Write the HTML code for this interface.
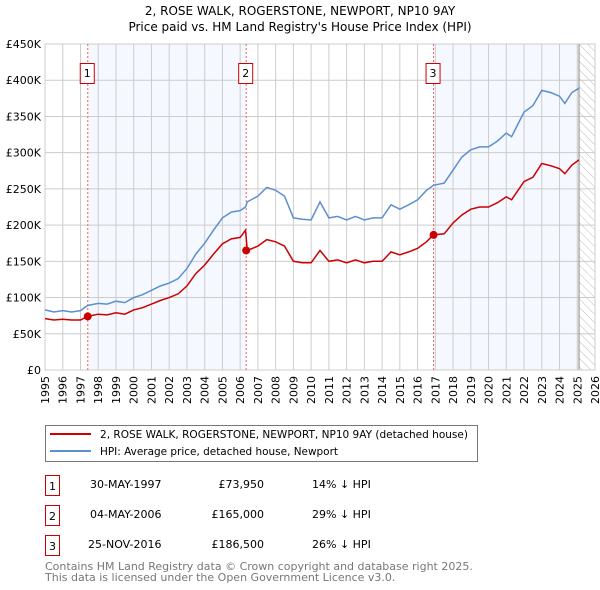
<!DOCTYPE html>
<html><head><meta charset="utf-8"><style>
body{margin:0;background:#fff;}
svg{display:block;font-family:"DejaVu Sans","Liberation Sans",sans-serif;}
</style></head><body>
<svg id="c" width="600" height="590" viewBox="0 0 600 590">
<defs><pattern id="hatch" width="6" height="6" patternUnits="userSpaceOnUse" patternTransform="rotate(-45)"><line x1="0" y1="0" x2="0" y2="6" stroke="#bbb" stroke-width="1"/></pattern></defs>
<text x="300" y="15" text-anchor="middle" font-size="12">2, ROSE WALK, ROGERSTONE, NEWPORT, NP10 9AY</text>
<text x="300" y="31" text-anchor="middle" font-size="12">Price paid vs. HM Land Registry's House Price Index (HPI)</text>
<g id="plot"></g>
<g>
<rect x="45.5" y="425.5" width="432" height="36" fill="#fff" stroke="#777"/>
<line x1="50" y1="434" x2="91" y2="434" stroke="#cc0000" stroke-width="2"/>
<text x="100" y="438" font-size="11" textLength="368" lengthAdjust="spacingAndGlyphs">2, ROSE WALK, ROGERSTONE, NEWPORT, NP10 9AY (detached house)</text>
<line x1="50" y1="451" x2="91" y2="451" stroke="#5b8fd0" stroke-width="2"/>
<text x="100" y="455" font-size="11" textLength="238" lengthAdjust="spacingAndGlyphs">HPI: Average price, detached house, Newport</text>
</g>
<g font-size="11">
<rect x="45.5" y="475.5" width="14" height="20" fill="#fff" stroke="#cc0000"/><text x="52.5" y="490" text-anchor="middle">1</text>
<text x="90" y="488">30-MAY-1997</text><text x="264" y="488" text-anchor="end">£73,950</text><text x="312" y="488">14% ↓ HPI</text>
<rect x="45.5" y="505.5" width="14" height="20" fill="#fff" stroke="#cc0000"/><text x="52.5" y="520" text-anchor="middle">2</text>
<text x="90" y="518">04-MAY-2006</text><text x="264" y="518" text-anchor="end">£165,000</text><text x="312" y="518">29% ↓ HPI</text>
<rect x="45.5" y="535.5" width="14" height="20" fill="#fff" stroke="#cc0000"/><text x="52.5" y="550" text-anchor="middle">3</text>
<text x="88" y="548">25-NOV-2016</text><text x="264" y="548" text-anchor="end">£186,500</text><text x="312" y="548">26% ↓ HPI</text>
</g>
<text x="45" y="570" font-size="11" fill="#777">Contains HM Land Registry data © Crown copyright and database right 2025.</text>
<text x="45" y="581" font-size="11" fill="#777">This data is licensed under the Open Government Licence v3.0.</text>
</svg>
<script>
const years=[1995,1995.5,1996,1996.5,1997,1997.4,1998,1998.5,1999,1999.5,2000,2000.5,2001,2001.5,2002,2002.5,2003,2003.5,2004,2004.5,2005,2005.5,2006,2006.3,2006.4,2007,2007.5,2008,2008.5,2009,2009.5,2010,2010.5,2011,2011.5,2012,2012.5,2013,2013.5,2014,2014.5,2015,2015.5,2016,2016.5,2016.9,2017.5,2018,2018.5,2019,2019.5,2020,2020.5,2021,2021.3,2022,2022.5,2023,2023.5,2024,2024.3,2024.7,2025.1];
const hpi=[83,80,82,80,82,89,92,91,95,93,100,104,110,116,120,126,140,160,175,193,210,218,220,225,232,240,252,248,240,210,208,207,232,210,212,207,212,207,210,210,228,222,228,235,248,255,258,276,294,304,308,308,316,327,322,356,365,386,383,378,368,383,389];
const price=[71,69,70,69,69,74,77,76,79,77,83,86,91,96,100,105,116,133,145,160,174,181,183,193,165,171,180,177,171,150,148,148,165,150,152,148,152,148,150,150,163,159,163,168,177,186.5,188,203,214,222,225,225,231,239,235,260,266,285,282,278,271,283,290];
const saleYears=[1997.41,2006.34,2016.9];
const saleValues=[73.95,165,186.5];
const saleLabels=["1","2","3"];
const yTicks=[0,50,100,150,200,250,300,350,400,450];
const yTickLabels=["£0","£50K","£100K","£150K","£200K","£250K","£300K","£350K","£400K","£450K"];
const xTicks=[1995,1996,1997,1998,1999,2000,2001,2002,2003,2004,2005,2006,2007,2008,2009,2010,2011,2012,2013,2014,2015,2016,2017,2018,2019,2020,2021,2022,2023,2024,2025,2026];

const X0=45,X1=595,Y0=370,Y1=44;
const xs=v=>X0+(v-1995)/31*(X1-X0);
const ys=v=>Y0-v/450*(Y0-Y1);
const NS="http://www.w3.org/2000/svg";
const g=document.getElementById('plot');
function mk(t,a,p){const e=document.createElementNS(NS,t);for(const k in a)e.setAttribute(k,a[k]);(p||g).appendChild(e);return e;}

let r=mk('rect',{x:xs(saleYears[0]),y:Y1,width:xs(saleYears[1])-xs(saleYears[0]),height:Y0-Y1,fill:'#f5f8fe'});

r=mk('rect',{x:xs(saleYears[2]),y:Y1,width:xs(2025.1)-xs(saleYears[2]),height:Y0-Y1,fill:'#f5f8fe'});

r=mk('rect',{x:xs(2025.1),y:Y1,width:X1-xs(2025.1),height:Y0-Y1,fill:'url(#hatch)'});


yTicks.forEach((v,i)=>{
 let l=mk('line',{x1:X0,x2:X1,y1:ys(v),y2:ys(v),stroke:'#ccc'});
 
 let t=mk('text',{x:X0-4,y:ys(v)+4,'text-anchor':'end','font-size':'11'});t.textContent=yTickLabels[i];
 
});
xTicks.forEach(v=>{
 let l=mk('line',{x1:xs(v),x2:xs(v),y1:Y1,y2:Y0,stroke:'#ccc'});
 
 let t=mk('text',{x:0,y:0,'text-anchor':'end','font-size':'11',transform:`translate(${xs(v)+4},${Y0+6}) rotate(-90)`});t.textContent=v;
 
});
let vl=mk('line',{x1:xs(2025.1),x2:xs(2025.1),y1:Y1,y2:Y0,stroke:'#888'});

let fr=mk('rect',{x:X0,y:Y1,width:X1-X0,height:Y0-Y1,fill:'none',stroke:'#ccc'});


saleYears.forEach((v,i)=>{
 let l=mk('line',{x1:xs(v),x2:xs(v),y1:Y1,y2:Y0,stroke:'#f06060','stroke-dasharray':'2,2'});
 
 let b=mk('rect',{x:xs(v)-7.5,y:63.5,width:14,height:20,fill:'#fff',stroke:'#cc0000'});
 
 let t=mk('text',{x:xs(v)-0.5,y:77,'text-anchor':'middle','font-size':'11'});t.textContent=saleLabels[i];
 
});

const path=arr=>years.map((y,i)=>(i?'L':'M')+xs(y).toFixed(1)+','+ys(arr[i]).toFixed(1)).join('');
let ph=mk('path',{d:path(hpi),fill:'none',stroke:'#5b8fd0','stroke-width':'1.5'});

let pp=mk('path',{d:path(price),fill:'none',stroke:'#cc0000','stroke-width':'1.5'});

saleYears.forEach((v,i)=>{
 let c=mk('circle',{cx:xs(v),cy:ys(saleValues[i]),r:4,fill:'#cc0000'});
 
});
</script>
</body></html>
